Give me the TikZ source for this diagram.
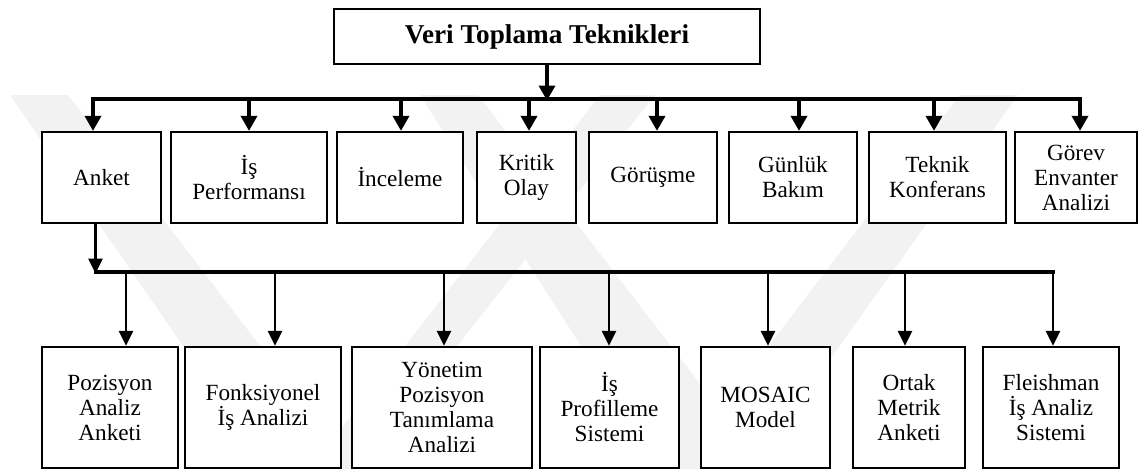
\documentclass[tikz,border=0pt]{standalone}
\usepackage{fontspec}
\setmainfont{Liberation Serif}
\usetikzlibrary{arrows.meta}

\tikzset{
  box/.style={draw=black, line width=2.3pt, fill=white, inner sep=0pt,
              align=center, font=\fontsize{23.2}{25}\selectfont},
  titlebox/.style={box, font=\fontsize{27.2}{30}\selectfont\bfseries},
  busone/.style={line width=3.6pt},
  bustwo/.style={line width=3.2pt},
  arrone/.style={line width=3.6pt, -{Triangle[width=16pt,length=15pt]}},
  arrtwo/.style={line width=2.6pt, -{Triangle[width=14pt,length=15pt]}},
  mark band/.style={fill=black!5, draw=none},
}

\begin{document}
\begin{tikzpicture}[x=1pt, y=-1pt]
  \useasboundingbox (0,0) rectangle (1139,469);

  % faint background chevrons
  \fill[mark band] (10,95) -- (68,95) -- (332,440) -- (300,469) -- (268,469) -- cycle;
  \fill[mark band] (300,469) -- (332,440) -- (600,95) -- (655,95) -- (360,469) -- cycle;
  \fill[mark band] (420,95) -- (478,95) -- (720,410) -- (692,469) -- (660,469) -- cycle;
  \fill[mark band] (692,469) -- (720,410) -- (960,95) -- (1018,95) -- (752,469) -- cycle;

  % title
  \node[titlebox, minimum width=426pt, minimum height=55pt] (top) at (547,36.5) {Veri Toplama Teknikleri};

  % first level
  \node[box, minimum width=119pt, minimum height=91pt] (anket)   at (101.5,177.5) {Anket};
  \node[box, minimum width=156pt, minimum height=91pt] (isperf)  at (249,177.5)   {İş\\Performansı};
  \node[box, minimum width=126pt, minimum height=91pt] (incel)   at (400,177.5)   {İnceleme};
  \node[box, minimum width=99pt,  minimum height=91pt] (kritik)  at (526.5,177.5) {Kritik\\Olay};
  \node[box, minimum width=128pt, minimum height=91pt] (gorus)   at (653,177.5)   {Görüşme};
  \node[box, minimum width=128pt, minimum height=91pt] (gunluk)  at (793,177.5)   {Günlük\\Bakım};
  \node[box, minimum width=137pt, minimum height=91pt] (teknik)  at (937.5,177.5) {Teknik\\Konferans};
  \node[box, minimum width=122pt, minimum height=91pt] (gorev)   at (1076,177.5)  {Görev\\Envanter\\Analizi};

  % second level
  \node[box, minimum width=136pt, minimum height=121pt] (pozis)  at (110,407.5)   {Pozisyon\\Analiz\\Anketi};
  \node[box, minimum width=156pt, minimum height=121pt] (fonks)  at (263,407.5)   {Fonksiyonel\\İş Analizi};
  \node[box, minimum width=180pt, minimum height=121pt] (yonet)  at (442,407.5)   {Yönetim\\Pozisyon\\Tanımlama\\Analizi};
  \node[box, minimum width=139pt, minimum height=121pt] (isprof) at (609.5,407.5) {İş\\Profilleme\\Sistemi};
  \node[box, minimum width=129pt, minimum height=121pt] (mosaic) at (765.5,407.5) {MOSAIC\\Model};
  \node[box, minimum width=112pt, minimum height=121pt] (ortak)  at (909,407.5)   {Ortak\\Metrik\\Anketi};
  \node[box, minimum width=136pt, minimum height=121pt] (fleish) at (1051,407.5)  {Fleishman\\İş Analiz\\Sistemi};

  % upper bus and its taps
  \coordinate (ta) at (93,99);
  \coordinate (tb) at (249,99);
  \coordinate (tc) at (401,99);
  \coordinate (td) at (529,99);
  \coordinate (tm) at (547,99);
  \coordinate (te) at (657,99);
  \coordinate (tf) at (799,99);
  \coordinate (tg) at (934,99);
  \coordinate (th) at (1080,99);

  \draw[arrone] (top.south -| tm) -- ([yshift=-1.5pt]tm);
  \draw[busone, line cap=rect] (ta) -- (th);
  \draw[arrone] (ta) -- (ta |- anket.north);
  \draw[arrone] (tb) -- (tb |- isperf.north);
  \draw[arrone] (tc) -- (tc |- incel.north);
  \draw[arrone] (td) -- (td |- kritik.north);
  \draw[arrone] (te) -- (te |- gorus.north);
  \draw[arrone] (tf) -- (tf |- gunluk.north);
  \draw[arrone] (tg) -- (tg |- teknik.north);
  \draw[arrone] (th) -- (th |- gorev.north);

  % lower bus fed from Anket
  \coordinate (sa) at (95.5,272);
  \coordinate (sb) at (126,272);
  \coordinate (sc) at (275,272);
  \coordinate (sd) at (444,272);
  \coordinate (se) at (609,272);
  \coordinate (sf) at (768,272);
  \coordinate (sg) at (905,272);
  \coordinate (sh) at (1053,272);

  \draw[arrtwo] (anket.south -| sa) -- ([yshift=-1.5pt]sa);
  \draw[bustwo, line cap=rect] (sa) -- (sh);
  \draw[arrtwo] (sb) -- (sb |- pozis.north);
  \draw[arrtwo] (sc) -- (sc |- fonks.north);
  \draw[arrtwo] (sd) -- (sd |- yonet.north);
  \draw[arrtwo] (se) -- (se |- isprof.north);
  \draw[arrtwo] (sf) -- (sf |- mosaic.north);
  \draw[arrtwo] (sg) -- (sg |- ortak.north);
  \draw[arrtwo] (sh) -- (sh |- fleish.north);
\end{tikzpicture}
\end{document}
